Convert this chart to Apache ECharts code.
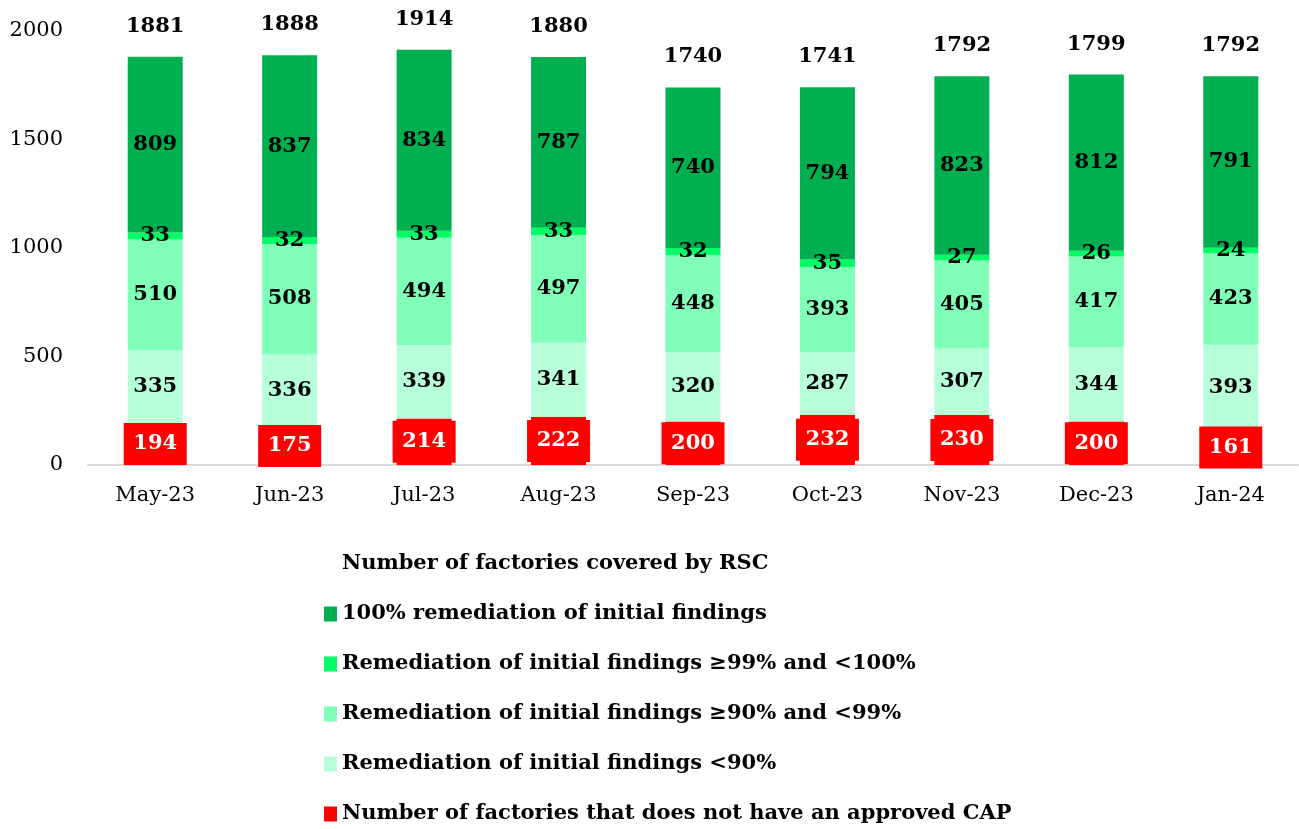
<!DOCTYPE html>
<html>
<head>
<meta charset="utf-8">
<script src="https://cdn.jsdelivr.net/npm/echarts@6/dist/echarts.min.js"></script>
<style>
  html, body { margin: 0; padding: 0; background: #fff; }
  #chart { width: 1299px; height: 829px; }
</style>
</head>
<body>
<div id="chart"></div>
<script>
var months = ["May-23", "Jun-23", "Jul-23", "Aug-23", "Sep-23", "Oct-23", "Nov-23", "Dec-23", "Jan-24"];
var noCap = [194, 175, 214, 222, 200, 232, 230, 200, 161];
var below90 = [335, 336, 339, 341, 320, 287, 307, 344, 393];
var from90to99 = [510, 508, 494, 497, 448, 393, 405, 417, 423];
var from99to100 = [33, 32, 33, 33, 32, 35, 27, 26, 24];
var full100 = [809, 837, 834, 787, 740, 794, 823, 812, 791];
var totals = [1881, 1888, 1914, 1880, 1740, 1741, 1792, 1799, 1792];

var names = [
  "Number of factories covered by RSC",
  "100% remediation of initial findings",
  "Remediation of initial findings ≥99% and <100%",
  "Remediation of initial findings ≥90% and <99%",
  "Remediation of initial findings <90%",
  "Number of factories that does not have an approved CAP"
];

var font = "DejaVu Serif";

function seg(name, data, color) {
  return {
    name: name,
    type: "bar",
    stack: "f",
    barWidth: 55,
    data: data,
    itemStyle: { color: color },
    label: {
      show: true,
      position: "inside",
      color: "#000",
      fontFamily: font,
      fontWeight: "bold",
      fontSize: 21
    }
  };
}

var chart = echarts.init(document.getElementById("chart"));
chart.setOption({
  animation: false,
  grid: { left: 88, right: 1, top: 31, bottom: 364 },
  legend: {
    orient: "vertical",
    left: 319,
    top: 548,
    height: 290,
    icon: "rect",
    itemWidth: 13,
    itemHeight: 15,
    itemGap: 28,
    selectedMode: false,
    textStyle: { fontFamily: font, fontWeight: "bold", fontSize: 21, color: "#000", lineHeight: 22 },
    data: [
      { name: names[0], icon: "none" },
      names[1], names[2], names[3], names[4], names[5]
    ]
  },
  xAxis: {
    type: "category",
    data: months,
    axisLine: { lineStyle: { color: "#D9D9D9", width: 2 } },
    axisTick: { lineStyle: { color: "#D9D9D9", width: 2 }, length: 7 },
    axisLabel: { color: "#000", fontFamily: font, fontSize: 21, margin: 20 }
  },
  yAxis: {
    type: "value",
    min: 0,
    max: 2000,
    interval: 500,
    splitLine: { show: false },
    axisLine: { show: false },
    axisTick: { show: false },
    axisLabel: {
      color: "#000", fontFamily: font, fontSize: 21, margin: 25,
      formatter: function (v) { return String(v); }
    }
  },
  series: [
    {
      name: names[5],
      type: "bar",
      stack: "f",
      barWidth: 55,
      data: noCap,
      itemStyle: { color: "#FF0000" },
      label: {
        show: true,
        position: "inside",
        color: "#fff",
        fontFamily: font,
        fontWeight: "bold",
        fontSize: 21,
        backgroundColor: "#FF0000",
        borderRadius: 0,
        width: 63,
        height: 42,
        lineHeight: 42,
        align: "center",
        padding: 0
      }
    },
    seg(names[4], below90, "#B7FFD8"),
    seg(names[3], from90to99, "#80FFB9"),
    seg(names[2], from99to100, "#00FF66"),
    seg(names[1], full100, "#00B050"),
    {
      name: names[0],
      type: "line",
      data: totals,
      symbol: "circle",
      symbolSize: 0,
      lineStyle: { opacity: 0 },
      itemStyle: { color: "#fff" },
      label: {
        show: true,
        position: "top",
        distance: 20,
        color: "#000",
        fontFamily: font,
        fontWeight: "bold",
        fontSize: 21
      }
    }
  ]
});
</script>
</body>
</html>
